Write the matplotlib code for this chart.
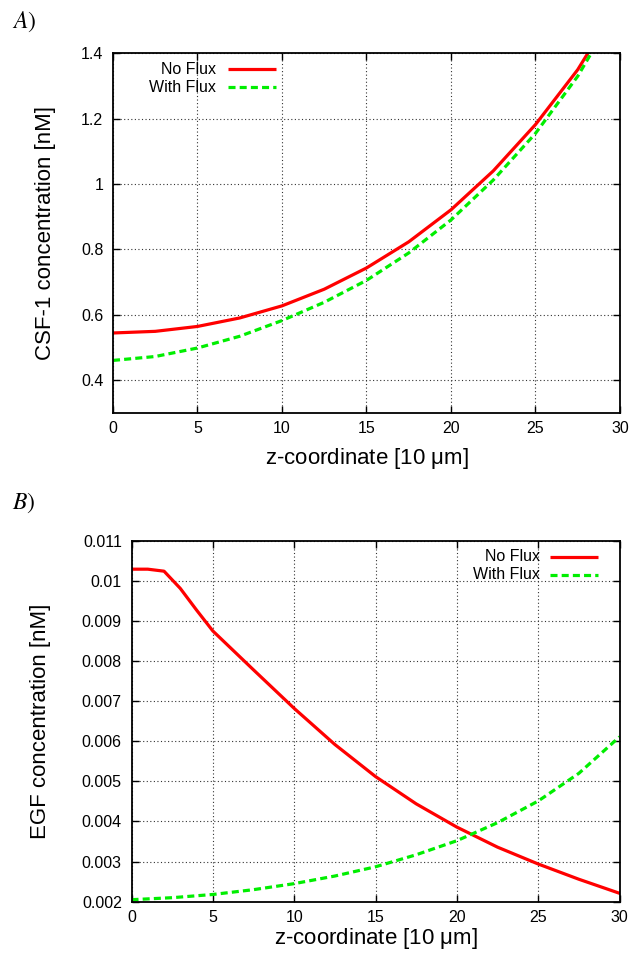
import matplotlib
matplotlib.use("Agg")
import matplotlib.pyplot as plt

plt.rcParams['font.family'] = ['Liberation Sans', 'DejaVu Sans']
plt.rcParams['mathtext.fontset'] = 'stix'

# ---------------- data ----------------
# Panel A: CSF-1 concentration
xa = [0, 2.5, 5, 7.5, 10, 12.5, 15, 17.5, 20, 22.5, 25, 27.5, 30]
csf_noflux = [0.544, 0.549, 0.564, 0.590, 0.627, 0.678, 0.743, 0.823, 0.921, 1.040, 1.182, 1.350, 1.560]
csf_withflux = [0.460, 0.472, 0.498, 0.534, 0.582, 0.638, 0.705, 0.789, 0.890, 1.012, 1.155, 1.330, 1.550]

# Panel B: EGF concentration
xb_noflux = [0, 1, 2, 3, 4, 5, 7.5, 10, 12.5, 15, 17.5, 20, 22.5, 25, 27.5, 30]
egf_noflux = [0.01029, 0.01029, 0.01024, 0.00981, 0.00927, 0.00875, 0.00778, 0.00682,
              0.00592, 0.00512, 0.00444, 0.00386, 0.00336, 0.00294, 0.00256, 0.00221]
xb_withflux = [0, 2.5, 5, 7.5, 10, 12.5, 15, 17.5, 20, 22.5, 25, 27.5, 30]
egf_withflux = [0.00205, 0.00210, 0.00218, 0.00230, 0.00245, 0.00264, 0.00287, 0.00317,
                0.00352, 0.00397, 0.00451, 0.00520, 0.00611]

xticks = [0, 5, 10, 15, 20, 25, 30]
yticks_a = [0.4, 0.6, 0.8, 1.0, 1.2, 1.4]
yticklabels_a = ['0.4', '0.6', '0.8', '1', '1.2', '1.4']
yticks_b = [0.002, 0.003, 0.004, 0.005, 0.006, 0.007, 0.008, 0.009, 0.010, 0.011]
yticklabels_b = ['0.002', '0.003', '0.004', '0.005', '0.006', '0.007', '0.008', '0.009', '0.01', '0.011']
series_names = ['No Flux', 'With Flux']

RED = '#ff0000'
GREEN = '#00ee00'

W, H = 632, 958
fig = plt.figure(figsize=(W / 100, H / 100), dpi=100)


def make_axes(l, t, r, b):
    return fig.add_axes([l / W, 1 - b / H, (r - l) / W, (b - t) / H])


def style(ax):
    for s in ax.spines.values():
        s.set_linewidth(1.3)
        s.set_color('black')
    ax.tick_params(direction='in', length=5, width=1.0, top=True, right=True,
                   labelsize=11.5, colors='black')
    ax.tick_params(axis='x', pad=6)
    ax.tick_params(axis='y', pad=7)
    ax.grid(True, color='#333333', linestyle=(0, (1, 2.2)), linewidth=0.8)
    ax.set_axisbelow(True)


def legend(ax, xt, xl0, xl1, ys):
    ax.text(xt, ys[0], series_names[0], transform=ax.transAxes, ha='right', va='center', fontsize=11.5)
    ax.text(xt, ys[1], series_names[1], transform=ax.transAxes, ha='right', va='center', fontsize=11.5)
    ax.plot([xl0, xl1], [ys[0], ys[0]], transform=ax.transAxes, color=RED, lw=2.3, solid_capstyle='butt')
    ax.plot([xl0, xl1], [ys[1], ys[1]], transform=ax.transAxes, color=GREEN, lw=2.3,
            linestyle=(0, (2.2, 1.3)), dash_capstyle='butt')


# ---------------- Panel A ----------------
axA = make_axes(113, 53.3, 620, 412.7)
style(axA)
axA.plot(xa, csf_noflux, color=RED, lw=2.3)
axA.plot(xa, csf_withflux, color=GREEN, lw=2.3, linestyle=(0, (2.2, 1.3)))
axA.set_xlim(0, 30)
axA.set_ylim(0.3, 1.4)
axA.set_xticks(xticks)
axA.set_xticklabels([str(v) for v in xticks])
axA.set_yticks(yticks_a)
axA.set_yticklabels(yticklabels_a)
axA.set_xlabel('z-coordinate [10 $\\mathregular{\\mu}$m]', fontsize=16)
axA.set_ylabel('CSF-1 concentration [nM]', fontsize=16)
axA.xaxis.set_label_coords(0.5, (412.7 - 446) / 359.4)
axA.yaxis.set_label_coords((56 - 113) / 507, 0.5)
legend(axA, (216 - 113) / 507, (228 - 113) / 507, (276 - 113) / 507, [0.956, 0.906])

# ---------------- Panel B ----------------
axB = make_axes(131.5, 540.7, 619.5, 901.7)
style(axB)
axB.plot(xb_noflux, egf_noflux, color=RED, lw=2.3)
axB.plot(xb_withflux, egf_withflux, color=GREEN, lw=2.3, linestyle=(0, (2.2, 1.3)))
axB.set_xlim(0, 30)
axB.set_ylim(0.002, 0.011)
axB.set_xticks(xticks)
axB.set_xticklabels([str(v) for v in xticks])
axB.set_yticks(yticks_b)
axB.set_yticklabels(yticklabels_b)
axB.set_xlabel('z-coordinate [10 $\\mathregular{\\mu}$m]', fontsize=16)
axB.set_ylabel('EGF concentration [nM]', fontsize=16)
axB.xaxis.set_label_coords(0.5, (901.7 - 926) / 361)
axB.yaxis.set_label_coords((51 - 131.5) / 488, 0.5)
legend(axB, (540 - 131.5) / 488, (550 - 131.5) / 488, (598 - 131.5) / 488, [0.955, 0.905])

# panel letters
fig.text(12 / W, 1 - 22 / H, r'$A)$', fontsize=17, va='center', ha='left')
fig.text(12 / W, 1 - 503 / H, r'$B)$', fontsize=17, va='center', ha='left')

fig.savefig('out.png', dpi=100)
